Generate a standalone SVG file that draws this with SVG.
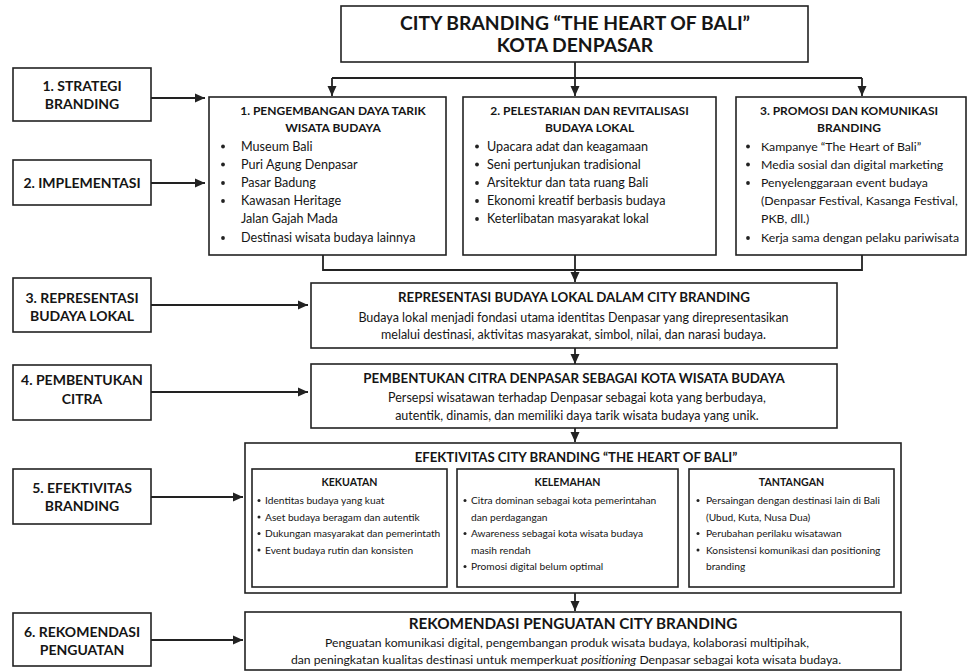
<svg xmlns="http://www.w3.org/2000/svg" width="968" height="672" viewBox="0 0 968 672">
<style>
text{font-family:Lato,"Noto Sans","Liberation Sans",sans-serif;fill:#151515}
.box{fill:#fff;stroke:#222;stroke-width:1.6}
.ln{fill:none;stroke:#222;stroke-width:1.8}
.t{font-size:19.3px;font-weight:700;text-anchor:middle}
.lb{font-size:14px;font-weight:700;text-anchor:middle}
.h{font-size:12px;font-weight:700;text-anchor:middle}
.it{font-size:12.6px}
.it3{font-size:12.3px}
.hh{font-size:13.3px;font-weight:700;text-anchor:middle}
.bd{font-size:12.5px;text-anchor:middle}
.eh{font-size:13.2px;font-weight:700;text-anchor:middle}
.sh{font-size:10.6px;font-weight:700;text-anchor:middle}
.si{font-size:10.2px}
.rh{font-size:15.3px;font-weight:700;text-anchor:middle}
.rb{font-size:12.2px;text-anchor:middle}
.dot{fill:#222}
</style>
<defs>
<marker id="ar" markerUnits="userSpaceOnUse" markerWidth="10" markerHeight="10" viewBox="0 0 10 10" refX="10" refY="5" orient="auto">
<path d="M0,0.5 L10,5 L0,9.5 Z" fill="#222"/>
</marker>
</defs>
<rect width="968" height="672" fill="#fff"/>

<g id="connectors">
<path class="ln" d="M575,62 V96" marker-end="url(#ar)"/>
<path class="ln" d="M332,78 H862"/>
<path class="ln" d="M332,78 V96" marker-end="url(#ar)"/>
<path class="ln" d="M862,78 V96" marker-end="url(#ar)"/>
<path class="ln" d="M323,255 V270 H862 V255"/>
<path class="ln" d="M575,255 V282" marker-end="url(#ar)"/>
<path class="ln" d="M575,348 V364" marker-end="url(#ar)"/>
<path class="ln" d="M575,428 V442" marker-end="url(#ar)"/>
<path class="ln" d="M575,593 V611" marker-end="url(#ar)"/>
<path class="ln" d="M151,98 H205" marker-end="url(#ar)"/>
<path class="ln" d="M151,183 H205" marker-end="url(#ar)"/>
<path class="ln" d="M151,305 H308" marker-end="url(#ar)"/>
<path class="ln" d="M151,392 H308" marker-end="url(#ar)"/>
<path class="ln" d="M151,497 H243" marker-end="url(#ar)"/>
<path class="ln" d="M151,640 H243" marker-end="url(#ar)"/>
</g>

<g id="title">
<rect class="box" x="341" y="6" width="467" height="56"/>
<text class="t" x="575" y="29.5">CITY BRANDING “THE HEART OF BALI”</text>
<text class="t" x="575" y="52">KOTA DENPASAR</text>
</g>

<g id="label1">
<rect class="box" x="13" y="68" width="138" height="53"/>
<text class="lb" x="82" y="91">1. STRATEGI</text>
<text class="lb" x="82" y="109">BRANDING</text>
</g>
<g id="label2">
<rect class="box" x="13" y="160" width="138" height="45"/>
<text class="lb" x="82" y="188">2. IMPLEMENTASI</text>
</g>
<g id="label3">
<rect class="box" x="13" y="278" width="138" height="54"/>
<text class="lb" x="82" y="303">3. REPRESENTASI</text>
<text class="lb" x="82" y="320.5">BUDAYA LOKAL</text>
</g>
<g id="label4">
<rect class="box" x="13" y="365" width="138" height="55"/>
<text class="lb" x="82" y="385">4. PEMBENTUKAN</text>
<text class="lb" x="82" y="403.5">CITRA</text>
</g>
<g id="label5">
<rect class="box" x="13" y="469" width="138" height="55"/>
<text class="lb" x="82" y="492.5">5. EFEKTIVITAS</text>
<text class="lb" x="82" y="511">BRANDING</text>
</g>
<g id="label6">
<rect class="box" x="13" y="613" width="138" height="53"/>
<text class="lb" x="82" y="636.5">6. REKOMENDASI</text>
<text class="lb" x="82" y="654.5">PENGUATAN</text>
</g>

<g id="box1">
<rect class="box" x="209" y="97" width="237" height="158"/>
<text class="h" x="333" y="114.5">1. PENGEMBANGAN DAYA TARIK</text>
<text class="h" x="333" y="132">WISATA BUDAYA</text>
<circle class="dot" cx="223" cy="146.5" r="1.9"/>
<circle class="dot" cx="223" cy="164.5" r="1.9"/>
<circle class="dot" cx="223" cy="183" r="1.9"/>
<circle class="dot" cx="223" cy="201" r="1.9"/>
<circle class="dot" cx="223" cy="238" r="1.9"/>
<text class="it" x="241" y="150.5">Museum Bali</text>
<text class="it" x="241" y="168.5">Puri Agung Denpasar</text>
<text class="it" x="241" y="187">Pasar Badung</text>
<text class="it" x="241" y="205">Kawasan Heritage</text>
<text class="it" x="241" y="223">Jalan Gajah Mada</text>
<text class="it" x="241" y="242">Destinasi wisata budaya lainnya</text>
</g>

<g id="box2">
<rect class="box" x="463" y="97" width="253" height="158"/>
<text class="h" x="589.5" y="114.5">2. PELESTARIAN DAN REVITALISASI</text>
<text class="h" x="589.5" y="132">BUDAYA LOKAL</text>
<circle class="dot" cx="477" cy="146.5" r="1.9"/>
<circle class="dot" cx="477" cy="164.5" r="1.9"/>
<circle class="dot" cx="477" cy="183" r="1.9"/>
<circle class="dot" cx="477" cy="201" r="1.9"/>
<circle class="dot" cx="477" cy="219" r="1.9"/>
<text class="it" x="487" y="150.5">Upacara adat dan keagamaan</text>
<text class="it" x="487" y="168.5">Seni pertunjukan tradisional</text>
<text class="it" x="487" y="187">Arsitektur dan tata ruang Bali</text>
<text class="it" x="487" y="205">Ekonomi kreatif berbasis budaya</text>
<text class="it" x="487" y="223">Keterlibatan masyarakat lokal</text>
</g>

<g id="box3">
<rect class="box" x="736" y="97" width="230" height="158"/>
<text class="h" x="849" y="114.5">3. PROMOSI DAN KOMUNIKASI</text>
<text class="h" x="849" y="132">BRANDING</text>
<circle class="dot" cx="748" cy="146.5" r="1.9"/>
<circle class="dot" cx="748" cy="164.5" r="1.9"/>
<circle class="dot" cx="748" cy="183" r="1.9"/>
<circle class="dot" cx="748" cy="238" r="1.9"/>
<text class="it3" x="761" y="150.5">Kampanye “The Heart of Bali”</text>
<text class="it3" x="761" y="168.5">Media sosial dan digital marketing</text>
<text class="it3" x="761" y="187">Penyelenggaraan event budaya</text>
<text class="it3" x="761" y="205">(Denpasar Festival, Kasanga Festival,</text>
<text class="it3" x="761" y="223">PKB, dll.)</text>
<text class="it3" x="761" y="242">Kerja sama dengan pelaku pariwisata</text>
</g>

<g id="representasi">
<rect class="box" x="311" y="283" width="526" height="65"/>
<text class="hh" x="574" y="302">REPRESENTASI BUDAYA LOKAL DALAM CITY BRANDING</text>
<text class="bd" x="573.5" y="322">Budaya lokal menjadi fondasi utama identitas Denpasar yang direpresentasikan</text>
<text class="bd" x="573.5" y="339">melalui destinasi, aktivitas masyarakat, simbol, nilai, dan narasi budaya.</text>
</g>

<g id="pembentukan">
<rect class="box" x="311" y="364" width="526" height="64"/>
<text class="hh" x="574" y="383">PEMBENTUKAN CITRA DENPASAR SEBAGAI KOTA WISATA BUDAYA</text>
<text class="bd" x="577" y="401.5">Persepsi wisatawan terhadap Denpasar sebagai kota yang berbudaya,</text>
<text class="bd" x="577" y="419.5">autentik, dinamis, dan memiliki daya tarik wisata budaya yang unik.</text>
</g>

<g id="efektivitas">
<rect class="box" x="245" y="443" width="656" height="150"/>
<text class="eh" x="576" y="461.5">EFEKTIVITAS CITY BRANDING “THE HEART OF BALI”</text>
</g>

<g id="kekuatan">
<rect class="box" x="252" y="469" width="195" height="118"/>
<text class="sh" x="349.5" y="486">KEKUATAN</text>
<circle class="dot" cx="259" cy="500.5" r="1.5"/>
<circle class="dot" cx="259" cy="517" r="1.5"/>
<circle class="dot" cx="259" cy="533.5" r="1.5"/>
<circle class="dot" cx="259" cy="550" r="1.5"/>
<text class="si" x="265" y="504">Identitas budaya yang kuat</text>
<text class="si" x="265" y="520.5">Aset budaya beragam dan autentik</text>
<text class="si" x="265" y="537">Dukungan masyarakat dan pemerintath</text>
<text class="si" x="265" y="553.5">Event budaya rutin dan konsisten</text>
</g>

<g id="kelemahan">
<rect class="box" x="457" y="469" width="221" height="118"/>
<text class="sh" x="567.5" y="486">KELEMAHAN</text>
<circle class="dot" cx="465" cy="500.5" r="1.5"/>
<circle class="dot" cx="465" cy="533.5" r="1.5"/>
<circle class="dot" cx="465" cy="566.5" r="1.5"/>
<text class="si" x="471" y="504">Citra dominan sebagai kota pemerintahan</text>
<text class="si" x="471" y="520.5">dan perdagangan</text>
<text class="si" x="471" y="537">Awareness sebagai kota wisata budaya</text>
<text class="si" x="471" y="553.5">masih rendah</text>
<text class="si" x="471" y="570">Promosi digital belum optimal</text>
</g>

<g id="tantangan">
<rect class="box" x="689" y="469" width="205" height="118"/>
<text class="sh" x="791.5" y="486">TANTANGAN</text>
<circle class="dot" cx="698" cy="500.5" r="1.5"/>
<circle class="dot" cx="698" cy="533.5" r="1.5"/>
<circle class="dot" cx="698" cy="550" r="1.5"/>
<text class="si" x="706" y="504">Persaingan dengan destinasi lain di Bali</text>
<text class="si" x="706" y="520.5">(Ubud, Kuta, Nusa Dua)</text>
<text class="si" x="706" y="537">Perubahan perilaku wisatawan</text>
<text class="si" x="706" y="553.5">Konsistensi komunikasi dan positioning</text>
<text class="si" x="706" y="570">branding</text>
</g>

<g id="rekomendasi">
<rect class="box" x="245" y="612" width="656" height="58"/>
<text class="rh" x="573" y="629">REKOMENDASI PENGUATAN CITY BRANDING</text>
<text class="rb" x="567" y="647">Penguatan komunikasi digital, pengembangan produk wisata budaya, kolaborasi multipihak,</text>
<text class="rb" x="566" y="664">dan peningkatan kualitas destinasi untuk memperkuat <tspan font-style="italic">positioning</tspan> Denpasar sebagai kota wisata budaya.</text>
</g>
</svg>
